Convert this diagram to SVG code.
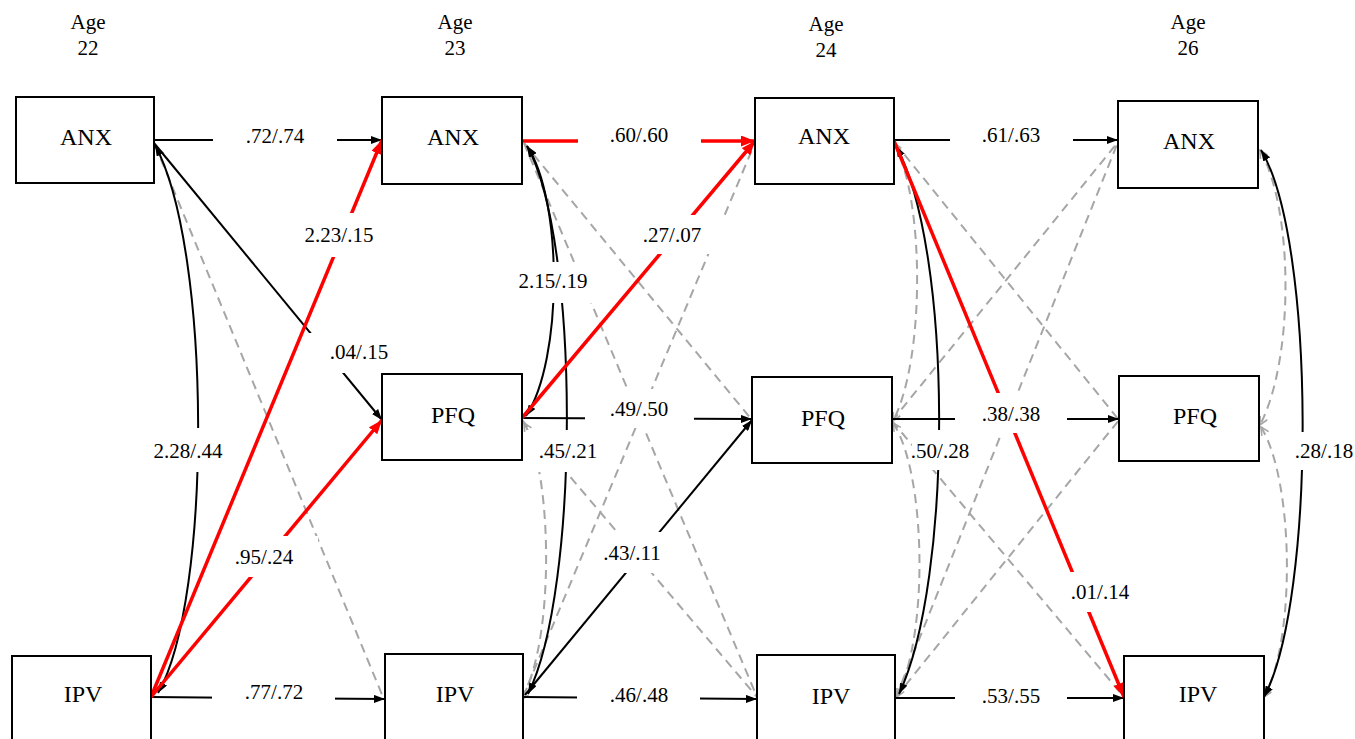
<svg xmlns="http://www.w3.org/2000/svg" width="1355" height="739" viewBox="0 0 1355 739">
  <style>
    .box { fill: #ffffff; stroke: #000000; stroke-width: 2; }
    .node-text { font-family: "Liberation Serif", "Times New Roman", serif; font-size: 24px; fill: #000000; text-anchor: middle; }
    .age { font-family: "Liberation Serif", "Times New Roman", serif; font-size: 21px; fill: #000000; text-anchor: middle; }
    .lbl { font-family: "Liberation Serif", "Times New Roman", serif; font-size: 21px; fill: #000000; text-anchor: middle; }
    .lbl-bg { fill: #ffffff; stroke: none; }
    .sig { fill: none; stroke: #000000; stroke-width: 2; marker-end: url(#arrowBlack); }
    .hot { fill: none; stroke: #ff0000; stroke-width: 3.5; marker-end: url(#arrowRed); }
    .ns { fill: none; stroke: #a6a6a6; stroke-width: 2; stroke-dasharray: 9 6; }
    .cov { fill: none; stroke: #000000; stroke-width: 2; marker-start: url(#arrowBlack); marker-end: url(#arrowBlack); }
    .cov-ns { fill: none; stroke: #a6a6a6; stroke-width: 2; stroke-dasharray: 9 6; marker-start: url(#chevronGrey); marker-end: url(#chevronGrey); }
  </style>
  <defs>
    <marker id="arrowBlack" viewBox="0 0 11 8" refX="11" refY="4" markerWidth="11" markerHeight="8" markerUnits="userSpaceOnUse" orient="auto-start-reverse">
      <path d="M0,0 L11,4 L0,8 z" fill="#000000"/>
    </marker>
    <marker id="arrowRed" viewBox="0 0 14 11" refX="14" refY="5.5" markerWidth="14" markerHeight="11" markerUnits="userSpaceOnUse" orient="auto-start-reverse">
      <path d="M0,0 L14,5.5 L0,11 z" fill="#ff0000"/>
    </marker>
    <marker id="chevronGrey" viewBox="0 0 10 10" refX="9" refY="5" markerWidth="10" markerHeight="10" markerUnits="userSpaceOnUse" orient="auto-start-reverse">
      <path d="M1,1 L9,5 L1,9" fill="none" stroke="#a6a6a6" stroke-width="1.6"/>
    </marker>
  </defs>

  <rect x="0" y="0" width="1355" height="739" fill="#ffffff"/>

  <!-- wave headers -->
  <g id="headers">
    <text class="age" x="88" y="29">Age</text>
    <text class="age" x="88" y="55">22</text>
    <text class="age" x="455" y="29">Age</text>
    <text class="age" x="455" y="55">23</text>
    <text class="age" x="826" y="31">Age</text>
    <text class="age" x="826" y="57">24</text>
    <text class="age" x="1188" y="29">Age</text>
    <text class="age" x="1188" y="55">26</text>
  </g>

  <g id="connectors">
    <!-- non-significant paths (grey dashed) -->
    <path class="ns" d="M155,145 L383,697"/>
    <path class="ns" d="M524,143 L752,420"/>
    <path class="ns" d="M524,143 L757,697"/>
    <path class="ns" d="M522,420 L757,697"/>
    <path class="ns" d="M522,699 L754,145"/>
    <path class="ns" d="M895,143 L1119,420"/>
    <path class="ns" d="M892,421 L1118,142"/>
    <path class="ns" d="M892,421 L1124,697"/>
    <path class="ns" d="M896,697 L1118,142"/>
    <path class="ns" d="M896,697 L1119,420"/>

    <!-- non-significant within-wave covariances -->
    <path class="cov-ns" d="M524,423 C552,470 556,640 521,700"/>
    <path class="cov-ns" d="M894,143 C925,200 925,360 893,421"/>
    <path class="cov-ns" d="M893,423 C925,470 930,630 897,697"/>
    <path class="cov-ns" d="M1260,150 C1294,210 1294,360 1260,425"/>
    <path class="cov-ns" d="M1261,427 C1294,480 1296,640 1264,697"/>

    <!-- autoregressive paths -->
    <path class="sig" d="M154,140 L382,140"/>
    <path class="sig" d="M894,140 L1118,140"/>
    <path class="sig" d="M522,418 L752,419"/>
    <path class="sig" d="M892,419 L1119,419"/>
    <path class="sig" d="M151,697 L385,699"/>
    <path class="sig" d="M523,697 L757,699"/>
    <path class="sig" d="M895,698 L1124,698"/>

    <!-- significant cross-lagged paths (black) -->
    <path class="sig" d="M154,143 L382,420"/>
    <path class="sig" d="M525,695 L752,420"/>

    <!-- significant within-wave covariances -->
    <path class="cov" d="M155,145 C212,250 212,600 158,693"/>
    <path class="cov" d="M527,146 C563,200 563,360 526,416"/>
    <path class="cov" d="M527,146 C580,240 580,590 528,694"/>
    <path class="cov" d="M896,146 C953,250 953,580 899,694"/>
    <path class="cov" d="M1261,150 C1316,240 1316,600 1264,697"/>

    <!-- highlighted paths (red) -->
    <path class="hot" d="M522,141 L755,141"/>
    <path class="hot" d="M151,697 L382,140"/>
    <path class="hot" d="M151,697 L382,420"/>
    <path class="hot" d="M522,418 L755,141"/>
    <path class="hot" d="M894,141 L1124,697"/>

    <!-- coefficient labels -->
    <g id="labels">
      <rect class="lbl-bg" x="213" y="120" width="124" height="40"/>
      <text class="lbl" x="275" y="143">.72/.74</text>
      <rect class="lbl-bg" x="578" y="120" width="123" height="40"/>
      <text class="lbl" x="639" y="142">.60/.60</text>
      <rect class="lbl-bg" x="950" y="120" width="123" height="40"/>
      <text class="lbl" x="1011" y="142">.61/.63</text>

      <rect class="lbl-bg" x="585" y="389" width="109" height="39"/>
      <text class="lbl" x="639" y="416">.49/.50</text>
      <rect class="lbl-bg" x="955" y="393" width="112" height="40"/>
      <text class="lbl" x="1011" y="421">.38/.38</text>

      <rect class="lbl-bg" x="212" y="677" width="123" height="40"/>
      <text class="lbl" x="274" y="699">.77/.72</text>
      <rect class="lbl-bg" x="577" y="680" width="123" height="40"/>
      <text class="lbl" x="639" y="702">.46/.48</text>
      <rect class="lbl-bg" x="955" y="680" width="112" height="40"/>
      <text class="lbl" x="1011" y="703">.53/.55</text>

      <rect class="lbl-bg" x="285" y="213" width="110" height="44"/>
      <text class="lbl" x="339" y="242">2.23/.15</text>
      <rect class="lbl-bg" x="306" y="333" width="110" height="40"/>
      <text class="lbl" x="359" y="359">.04/.15</text>
      <rect class="lbl-bg" x="224" y="536" width="94" height="41"/>
      <text class="lbl" x="264" y="564">.95/.24</text>
      <rect class="lbl-bg" x="143" y="428" width="90" height="44"/>
      <text class="lbl" x="188" y="458">2.28/.44</text>

      <rect class="lbl-bg" x="618" y="215" width="112" height="39"/>
      <text class="lbl" x="672" y="242">.27/.07</text>
      <rect class="lbl-bg" x="513" y="262" width="82" height="41"/>
      <text class="lbl" x="553" y="288">2.15/.19</text>
      <rect class="lbl-bg" x="527" y="430" width="81" height="42"/>
      <text class="lbl" x="568" y="458">.45/.21</text>
      <rect class="lbl-bg" x="595" y="532" width="85" height="41"/>
      <text class="lbl" x="632" y="560">.43/.11</text>

      <rect class="lbl-bg" x="912" y="430" width="56" height="40"/>
      <text class="lbl" x="940" y="458">.50/.28</text>
      <rect class="lbl-bg" x="1062" y="572" width="78" height="40"/>
      <text class="lbl" x="1100" y="599">.01/.14</text>
      <rect class="lbl-bg" x="1288" y="432" width="67" height="38"/>
      <text class="lbl" x="1324" y="458">.28/.18</text>
    </g>
  </g>

  <!-- Age 22 -->
  <g id="anx22">
    <rect class="box" x="16" y="97" width="138" height="86"/>
    <text class="node-text" x="86" y="145">ANX</text>
  </g>
  <g id="ipv22">
    <rect class="box" x="12" y="656" width="139" height="100"/>
    <text class="node-text" x="83" y="702">IPV</text>
  </g>

  <!-- Age 23 -->
  <g id="anx23">
    <rect class="box" x="382" y="97" width="140" height="87"/>
    <text class="node-text" x="453" y="145">ANX</text>
  </g>
  <g id="pfq23">
    <rect class="box" x="382" y="374" width="140" height="86"/>
    <text class="node-text" x="453" y="423">PFQ</text>
  </g>
  <g id="ipv23">
    <rect class="box" x="385" y="654" width="138" height="100"/>
    <text class="node-text" x="455" y="702">IPV</text>
  </g>

  <!-- Age 24 -->
  <g id="anx24">
    <rect class="box" x="755" y="98" width="139" height="86"/>
    <text class="node-text" x="824" y="144">ANX</text>
  </g>
  <g id="pfq24">
    <rect class="box" x="752" y="377" width="140" height="86"/>
    <text class="node-text" x="823" y="426">PFQ</text>
  </g>
  <g id="ipv24">
    <rect class="box" x="757" y="655" width="138" height="100"/>
    <text class="node-text" x="831" y="704">IPV</text>
  </g>

  <!-- Age 26 -->
  <g id="anx26">
    <rect class="box" x="1118" y="101" width="140" height="87"/>
    <text class="node-text" x="1189" y="149">ANX</text>
  </g>
  <g id="pfq26">
    <rect class="box" x="1119" y="376" width="140" height="85"/>
    <text class="node-text" x="1195" y="424">PFQ</text>
  </g>
  <g id="ipv26">
    <rect class="box" x="1124" y="656" width="140" height="100"/>
    <text class="node-text" x="1198" y="702">IPV</text>
  </g>
</svg>
